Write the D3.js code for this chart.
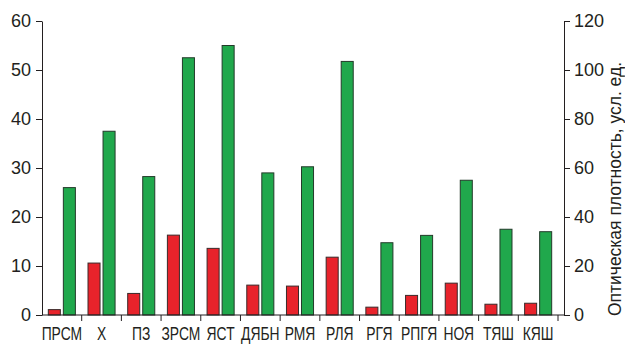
<!DOCTYPE html>
<html>
<head>
<meta charset="utf-8">
<script src="https://cdn.jsdelivr.net/npm/d3@7"></script>
<style>
  body { margin: 0; background: #fff; }
  svg text { font-family: "Liberation Sans", Arial, sans-serif; fill: #231f20; }
</style>
</head>
<body>
<div id="chart"></div>
<script>
const categories = ["ПРСМ", "Х", "ПЗ", "ЗРСМ", "ЯСТ", "ДЯБН", "РМЯ", "РЛЯ", "РГЯ", "РПГЯ", "НОЯ", "ТЯШ", "КЯШ"];
// red bars, left axis
const redValues = [1.1, 10.6, 4.4, 16.3, 13.6, 6.1, 5.9, 11.8, 1.6, 4.0, 6.5, 2.2, 2.4];
// green bars, right axis (optical density)
const greenValues = [52, 75, 56.5, 105, 110, 58, 60.5, 103.5, 29.5, 32.5, 55, 35, 34];
const leftTicks = [0, 10, 20, 30, 40, 50, 60];
const rightTicks = [0, 20, 40, 60, 80, 100, 120];
const rightLabel = "Оптическая плотность, усл. ед.";

const width = 625, height = 344;
const margin = { top: 21, right: 61, bottom: 29, left: 42 };
const plotRight = 558, axisRight = 564;

const svg = d3.select("#chart").append("svg")
    .attr("width", width)
    .attr("height", height);

const x = d3.scaleBand()
    .domain(categories)
    .range([margin.left, plotRight]);

const xi = d3.scaleBand()
    .domain(["red", "green"])
    .range([0, x.bandwidth()])
    .paddingInner(0.2)
    .paddingOuter(0.42);

const yL = d3.scaleLinear().domain([0, 60]).range([height - margin.bottom, margin.top]);
const yR = d3.scaleLinear().domain([0, 120]).range([height - margin.bottom, margin.top]);

// bars
const rows = categories.map((c, i) => ({ cat: c, red: redValues[i], green: greenValues[i] }));

svg.append("g").selectAll("rect")
    .data(rows)
    .join("rect")
    .attr("x", d => x(d.cat) + xi("red"))
    .attr("y", d => yL(d.red))
    .attr("width", xi.bandwidth())
    .attr("height", d => yL(0) - yL(d.red))
    .attr("fill", "#e8232b")
    .attr("stroke", "#3a2a2a")
    .attr("stroke-width", 1);

svg.append("g").selectAll("rect")
    .data(rows)
    .join("rect")
    .attr("x", d => x(d.cat) + xi("green"))
    .attr("y", d => yR(d.green))
    .attr("width", xi.bandwidth())
    .attr("height", d => yR(0) - yR(d.green))
    .attr("fill", "#20a84c")
    .attr("stroke", "#233a2a")
    .attr("stroke-width", 1);

// left axis
const gL = svg.append("g")
    .attr("transform", `translate(${margin.left},0)`)
    .call(d3.axisLeft(yL).tickValues(leftTicks).tickSize(6).tickPadding(5).tickSizeOuter(0));
gL.selectAll("text").style("font-size", "18px");

// right axis
const gR = svg.append("g")
    .attr("transform", `translate(${axisRight},0)`)
    .call(d3.axisRight(yR).tickValues(rightTicks).tickSize(6).tickPadding(4).tickSizeOuter(0));
gR.selectAll("text").style("font-size", "18px");

// baseline with category separators
svg.append("line")
    .attr("x1", margin.left)
    .attr("x2", axisRight)
    .attr("y1", yL(0))
    .attr("y2", yL(0))
    .attr("stroke", "#231f20");

svg.append("g").selectAll("line")
    .data(categories)
    .join("line")
    .attr("x1", d => x(d) + x.bandwidth())
    .attr("x2", d => x(d) + x.bandwidth())
    .attr("y1", yL(0))
    .attr("y2", yL(0) + 6)
    .attr("stroke", "#231f20");

// category labels, squeezed horizontally (the original uses a condensed face)
svg.append("g").selectAll("text")
    .data(categories)
    .join("text")
    .attr("transform", d => `translate(${x(d) + x.bandwidth() / 2},${height - 4}) scale(0.77,1)`)
    .attr("text-anchor", "middle")
    .style("font-size", "18px")
    .text(d => d);

svg.selectAll(".domain, .tick line").attr("stroke", "#231f20");

// right axis title
svg.append("text")
    .attr("transform", `translate(621,189) rotate(-90)`)
    .attr("text-anchor", "middle")
    .style("font-size", "18px")
    .attr("textLength", 254)
    .attr("lengthAdjust", "spacingAndGlyphs")
    .text(rightLabel);
</script>
</body>
</html>
